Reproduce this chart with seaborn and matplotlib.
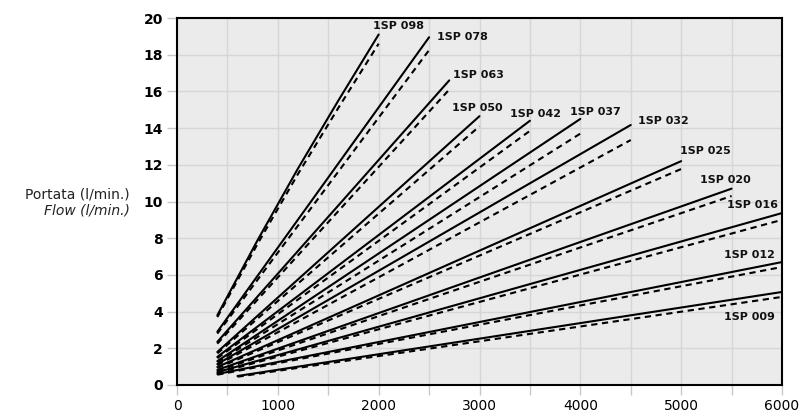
import pandas as pd
import matplotlib
matplotlib.use('Agg')
import matplotlib.pyplot as plt
import seaborn as sns
from matplotlib.ticker import MultipleLocator

# Pump curves: rpm vs flow (l/min), solid = nominal, dashed = reduced
models = ['1SP 098', '1SP 078', '1SP 063', '1SP 050', '1SP 042', '1SP 037',
          '1SP 032', '1SP 025', '1SP 020', '1SP 016', '1SP 012', '1SP 009']
rpm_pts = [[400, 800, 1200, 1600, 2000], [400, 2500], [400, 2700], [400, 3000],
           [400, 3500], [400, 4000], [400, 4500], [400, 5000], [400, 5500],
           [400, 6000], [400, 6000], [600, 6000]]
flow_solid = [[3.8, 7.9, 11.8, 15.5, 19.1], [2.9, 18.95], [2.35, 16.6], [1.8, 14.65],
              [1.53, 14.4], [1.3, 14.5], [1.14, 14.17], [0.98, 12.2], [0.82, 10.7],
              [0.7, 9.37], [0.6, 6.7], [0.49, 5.07]]
flow_dashed = [[3.7, 7.7, 11.5, 15.1, 18.6], [2.8, 18.25], [2.25, 16.1], [1.72, 14.1],
               [1.46, 13.85], [1.24, 13.7], [1.08, 13.35], [0.92, 11.77], [0.76, 10.3],
               [0.65, 9.0], [0.56, 6.43], [0.45, 4.8]]

# label offset from the end of the solid curve (pixels)
label_offsets = [(-6, 9), (8, 0), (4, 5), (-27, 8), (-20, 7), (-10, 7),
                 (7, 4), (-1, 10), (-32, 9), (-55, 8), (-58, 7), (-58, -25)]

rows = []
for m, xs, ys, yd in zip(models, rpm_pts, flow_solid, flow_dashed):
    for x, s, d in zip(xs, ys, yd):
        rows.append({'model': m, 'rpm': x, 'solid': s, 'dashed': d})
df = pd.DataFrame(rows)

sns.set_style('whitegrid', {'axes.facecolor': '#ebebeb', 'grid.color': '#d6d6d6',
                            'axes.edgecolor': 'black', 'text.color': 'black',
                            'xtick.color': 'black', 'ytick.color': 'black'})
plt.rcParams['font.family'] = ['DejaVu Sans']

fig = plt.figure(figsize=(8.01, 4.20), dpi=100)
ax = fig.add_axes([177/801, 35/420, 605/801, 367/420])

for i, m in enumerate(models):
    sub = df[df['model'] == m]
    sns.lineplot(data=sub, x='rpm', y='solid', ax=ax, color='black', lw=1.5,
                 estimator=None, sort=False)
    sns.lineplot(data=sub, x='rpm', y='dashed', ax=ax, color='black', lw=1.5,
                 estimator=None, sort=False, linestyle=(0, (3, 2.2)))
    ax.annotate(m, (sub['rpm'].iloc[-1], sub['solid'].iloc[-1]),
                xytext=label_offsets[i], textcoords='offset pixels',
                ha='left', va='center', fontsize=8, fontweight='bold', color='#111111')

ax.set_xlim(0, 6000)
ax.set_ylim(0, 20)
ax.xaxis.set_major_locator(MultipleLocator(1000))
ax.xaxis.set_minor_locator(MultipleLocator(500))
ax.yaxis.set_major_locator(MultipleLocator(2))
ax.grid(True, which='both', axis='x', color='#d6d6d6', lw=1)
ax.grid(True, which='major', axis='y', color='#d6d6d6', lw=1)
ax.tick_params(axis='x', which='both', bottom=True, length=7, width=1, color='#c8c8c8',
               labelsize=10, pad=3, labelcolor='black')
ax.tick_params(axis='y', left=True, length=7, width=1, color='#c8c8c8',
               labelsize=10, pad=3, labelcolor='black')
for lab in ax.get_yticklabels():
    lab.set_fontweight('bold')
for sp in ax.spines.values():
    sp.set_linewidth(1.5)
    sp.set_color('black')
ax.set_xlabel('')
ax.set_ylabel('')

fig.text(130/801, 1 - 194/420, 'Portata (l/min.)', ha='right', va='center',
         fontsize=10, color='#222222')
fig.text(130/801, 1 - 211/420, 'Flow (l/min.)', ha='right', va='center',
         fontsize=10, style='italic', color='#222222')

fig.savefig('out.png', dpi=100)
